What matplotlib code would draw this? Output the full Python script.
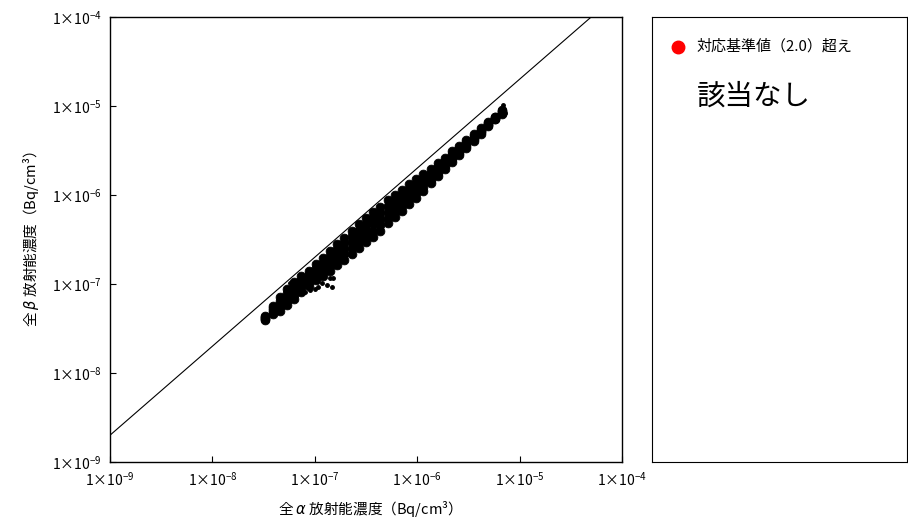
import matplotlib
matplotlib.use("Agg")
import matplotlib.pyplot as plt
from matplotlib.ticker import FixedLocator, FixedFormatter

plt.rcParams['font.family'] = ['Noto Sans CJK JP', 'DejaVu Sans']
plt.rcParams['mathtext.fontset'] = 'custom'
plt.rcParams['mathtext.rm'] = 'Noto Sans CJK JP'
plt.rcParams['mathtext.it'] = 'DejaVu Sans:italic'

# 全α (Bq/cm3) : 列ごとの値
alpha = [3.3e-8, 3.9e-8, 4.6e-8, 5.4e-8, 6.3e-8, 7.4e-8, 8.7e-8, 1.02e-7,
         1.20e-7, 1.41e-7, 1.66e-7, 1.95e-7, 2.29e-7, 2.69e-7, 3.16e-7, 3.72e-7,
         4.37e-7, 5.13e-7, 6.03e-7, 7.08e-7, 8.32e-7, 9.77e-7, 1.15e-6, 1.35e-6,
         1.58e-6, 1.86e-6, 2.19e-6, 2.57e-6, 3.02e-6, 3.55e-6, 4.17e-6, 4.90e-6,
         5.75e-6, 6.76e-6]

# 全β (Bq/cm3) : 帯の上側から下側へ
beta_1 = [4.37e-8, 5.62e-8, 7.08e-8, 8.71e-8, 1.05e-7, 1.23e-7, 1.41e-7, 1.66e-7,
          1.95e-7, 2.34e-7, 2.82e-7, 3.31e-7, 3.98e-7, 4.68e-7, 5.50e-7, 6.46e-7,
          7.41e-7, 8.71e-7, 1.00e-6, 1.15e-6, 1.32e-6, 1.51e-6, 1.70e-6, 1.95e-6,
          2.29e-6, 2.63e-6, 3.09e-6, 3.55e-6, 4.17e-6, 4.79e-6, 5.62e-6, 6.61e-6,
          7.59e-6, 9.12e-6]
beta_2 = [4.27e-8, 5.37e-8, 6.49e-8, 7.85e-8, 9.39e-8, 1.11e-7, 1.28e-7, 1.50e-7,
          1.74e-7, 2.07e-7, 2.45e-7, 2.87e-7, 3.43e-7, 4.00e-7, 4.70e-7, 5.50e-7,
          6.35e-7, 7.50e-7, 8.66e-7, 1.00e-6, 1.16e-6, 1.34e-6, 1.53e-6, 1.78e-6,
          2.10e-6, 2.44e-6, 2.88e-6, 3.35e-6, 3.96e-6, 4.60e-6, 5.43e-6, 6.42e-6,
          7.46e-6, 8.86e-6]
beta_3 = [4.17e-8, 5.07e-8, 5.96e-8, 7.08e-8, 8.41e-8, 1.00e-7, 1.16e-7, 1.35e-7,
          1.55e-7, 1.82e-7, 2.14e-7, 2.48e-7, 2.95e-7, 3.43e-7, 4.03e-7, 4.68e-7,
          5.43e-7, 6.46e-7, 7.50e-7, 8.71e-7, 1.02e-6, 1.19e-6, 1.38e-6, 1.62e-6,
          1.93e-6, 2.26e-6, 2.69e-6, 3.16e-6, 3.76e-6, 4.42e-6, 5.25e-6, 6.24e-6,
          7.33e-6, 8.61e-6]
beta_4 = [4.07e-8, 4.79e-8, 5.47e-8, 6.38e-8, 7.54e-8, 9.02e-8, 1.05e-7, 1.22e-7,
          1.38e-7, 1.60e-7, 1.86e-7, 2.15e-7, 2.54e-7, 2.93e-7, 3.45e-7, 3.98e-7,
          4.65e-7, 5.56e-7, 6.49e-7, 7.59e-7, 9.02e-7, 1.05e-6, 1.24e-6, 1.48e-6,
          1.77e-6, 2.10e-6, 2.51e-6, 2.99e-6, 3.57e-6, 4.24e-6, 5.07e-6, 6.06e-6,
          7.20e-6, 8.37e-6]
beta_5 = [3.98e-8, 4.57e-8, 5.01e-8, 5.75e-8, 6.76e-8, 8.13e-8, 9.55e-8, 1.10e-7,
          1.23e-7, 1.41e-7, 1.62e-7, 1.86e-7, 2.19e-7, 2.51e-7, 2.95e-7, 3.39e-7,
          3.98e-7, 4.79e-7, 5.62e-7, 6.61e-7, 7.94e-7, 9.33e-7, 1.12e-6, 1.35e-6,
          1.62e-6, 1.95e-6, 2.34e-6, 2.82e-6, 3.39e-6, 4.07e-6, 4.90e-6, 5.89e-6,
          7.08e-6, 8.13e-6]

# 帯から外れた点
alpha_out = [8.0e-8, 8.97e-8, 1.0e-7, 1.07e-7, 1.17e-7, 1.31e-7, 1.41e-7, 1.51e-7,
             1.47e-7, 5.73e-8, 6.89e-6, 7.2e-6]
beta_out = [8.13e-8, 8.57e-8, 8.79e-8, 9.25e-8, 1.03e-7, 9.75e-8, 1.17e-7, 1.17e-7,
            9.25e-8, 1.03e-7, 1.03e-5, 8.34e-6]

# 対応基準値 β/α = 2.0
line_alpha = [1e-9, 1e-4]
line_beta = [2e-9, 2e-4]

ticks = [1e-9, 1e-8, 1e-7, 1e-6, 1e-5, 1e-4]
tick_labels = [r'$\mathregular{1×10^{-9}}$', r'$\mathregular{1×10^{-8}}$',
               r'$\mathregular{1×10^{-7}}$', r'$\mathregular{1×10^{-6}}$',
               r'$\mathregular{1×10^{-5}}$', r'$\mathregular{1×10^{-4}}$']

fig = plt.figure(figsize=(9.08, 5.19), dpi=100)
ax = fig.add_axes([110 / 908, 1 - 462 / 519, 512 / 908, 445 / 519])

ax.plot(line_alpha, line_beta, color='black', linewidth=0.8)
for b in [beta_1, beta_2, beta_3, beta_4, beta_5]:
    ax.plot(alpha, b, 'o', color='black', markersize=6.3, markeredgewidth=0.6,
            linestyle='none')
ax.plot(alpha_out, beta_out, 'o', color='black', markersize=2.5,
        linestyle='none')

ax.set_xscale('log')
ax.set_yscale('log')
ax.set_xlim(1e-9, 1e-4)
ax.set_ylim(1e-9, 1e-4)
ax.xaxis.set_major_locator(FixedLocator(ticks))
ax.xaxis.set_major_formatter(FixedFormatter(tick_labels))
ax.yaxis.set_major_locator(FixedLocator(ticks))
ax.yaxis.set_major_formatter(FixedFormatter(tick_labels))
ax.minorticks_off()
ax.tick_params(direction='in', length=4, labelsize=10, pad=6)
for s in ax.spines.values():
    s.set_linewidth(1.0)

ax.set_xlabel('全 $\\mathit{α}$ 放射能濃度（Bq/cm³）', fontsize=10.5, labelpad=8)
ax.set_ylabel('全 $\\mathit{β}$ 放射能濃度（Bq/cm³）', fontsize=10.5, labelpad=7.5)

# 右側の凡例パネル
ax2 = fig.add_axes([652 / 908, 1 - 462 / 519, 255 / 908, 445 / 519])
ax2.set_xticks([])
ax2.set_yticks([])
ax2.set_xlim(0, 1)
ax2.set_ylim(0, 1)
ax2.plot([0.102], [0.933], 'o', color='red', markersize=9)
ax2.text(0.176, 0.933, '対応基準値（2.0）超え', fontsize=10.8, va='center', ha='left')
ax2.text(0.40, 0.82, '該当なし', fontsize=20.5, va='center', ha='center')

fig.savefig('out.png', dpi=100)
